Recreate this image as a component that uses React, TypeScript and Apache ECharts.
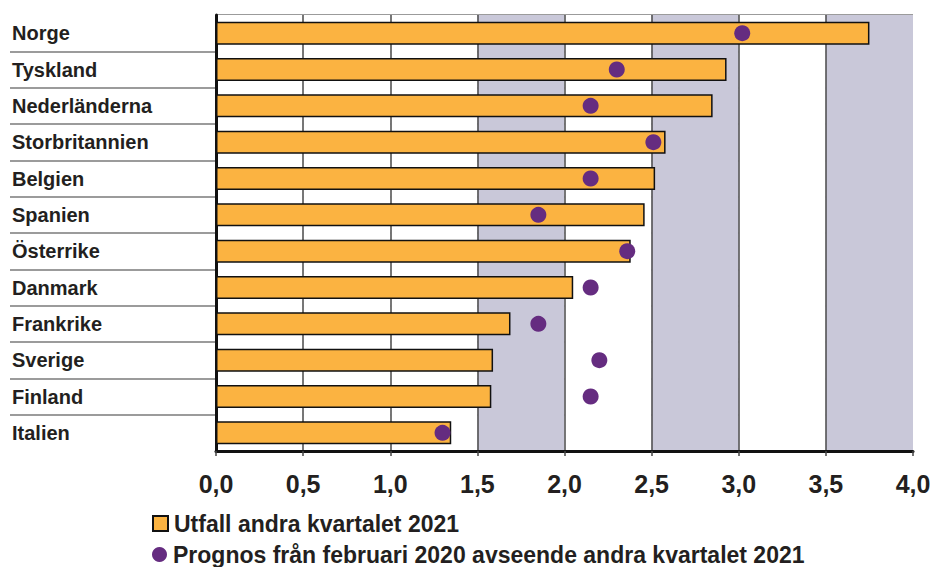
import React, { useEffect, useRef } from "react";
import * as echarts from "echarts";

const categories = [
  "Norge",
  "Tyskland",
  "Nederländerna",
  "Storbritannien",
  "Belgien",
  "Spanien",
  "Österrike",
  "Danmark",
  "Frankrike",
  "Sverige",
  "Finland",
  "Italien",
];
const utfall = [3.75, 2.93, 2.85, 2.58, 2.52, 2.46, 2.38, 2.05, 1.69, 1.59, 1.58, 1.35];
const prognos = [3.02, 2.3, 2.15, 2.51, 2.15, 1.85, 2.36, 2.15, 1.85, 2.2, 2.15, 1.3];
const seriesNames = [
  "Utfall andra kvartalet 2021",
  "Prognos från februari 2020 avseende andra kvartalet 2021",
];
const xMin = 0;
const xMax = 4;
const xStep = 0.5;

const FONT = "'Liberation Sans', Arial, Helvetica, sans-serif";
const TEXT = "#231f20";

const legendText = {
  fontFamily: FONT,
  fontSize: 23,
  fontWeight: "bold",
  color: TEXT,
  padding: [0, 0, 0, 1],
};

export default function App() {
  const ref = useRef<HTMLDivElement>(null);
  useEffect(() => {
    document.body.style.margin = "0";
    if (!ref.current) return;
    const chart = echarts.init(ref.current, null, { renderer: "svg" });
    chart.setOption({
      animation: false,
      backgroundColor: "#ffffff",
      grid: [
        { left: 216, right: 21, top: 15, bottom: 116, containLabel: false },
        { left: 10, width: 206, top: 15, bottom: 116, containLabel: false },
      ],
      legend: [
        {
          left: 152,
          top: 512,
          padding: 0,
          itemWidth: 15,
          itemHeight: 15,
          textStyle: legendText,
          data: [{ name: seriesNames[0], icon: "rect" }],
        },
        {
          left: 152,
          top: 543,
          padding: 0,
          itemWidth: 15,
          itemHeight: 15,
          textStyle: legendText,
          data: [{ name: seriesNames[1], icon: "circle" }],
        },
      ],
      xAxis: [
        {
          type: "value",
          gridIndex: 0,
          min: xMin,
          max: xMax,
          interval: xStep,
          axisLine: { show: true, lineStyle: { color: "#111", width: 3 } },
          axisTick: { show: true, length: 5, lineStyle: { color: "#444", width: 1.5 } },
          axisLabel: {
            margin: 20,
            fontFamily: FONT,
            fontSize: 25,
            fontWeight: "bold",
            color: TEXT,
            formatter: (v: number) => v.toFixed(1).replace(".", ","),
          },
          splitLine: { show: true, showMaxLine: false, lineStyle: { color: "#4a4a4a", width: 1.5 } },
          splitArea: {
            show: true,
            areaStyle: {
              color: ["#ffffff", "#ffffff", "#ffffff", "#c9c8d9", "#ffffff", "#c9c8d9", "#ffffff", "#c9c8d9"],
            },
          },
        },
        { type: "value", gridIndex: 1, min: 0, max: 1, show: false },
      ],
      yAxis: [
        {
          type: "category",
          gridIndex: 0,
          data: categories,
          inverse: true,
          axisLine: { show: true, lineStyle: { color: "#111", width: 3 } },
          axisTick: { show: false },
          axisLabel: {
            align: "left",
            margin: 204,
            fontFamily: FONT,
            fontSize: 20,
            fontWeight: "bold",
            color: TEXT,
          },
          splitLine: { show: true, lineStyle: { color: "#7a7a7a", width: 1.5 } },
        },
        {
          type: "category",
          gridIndex: 1,
          data: categories,
          inverse: true,
          axisLine: { show: false },
          axisTick: { show: false },
          axisLabel: { show: false },
          splitLine: {
            show: true,
            showMinLine: false,
            showMaxLine: false,
            lineStyle: { color: "#7a7a7a", width: 1.5 },
          },
        },
      ],
      series: [
        {
          name: seriesNames[0],
          type: "bar",
          xAxisIndex: 0,
          yAxisIndex: 0,
          data: utfall,
          barWidth: 23,
          itemStyle: { color: "#fbb341", borderColor: "#111", borderWidth: 1.5 },
          z: 3,
        },
        {
          name: seriesNames[1],
          type: "scatter",
          xAxisIndex: 0,
          yAxisIndex: 0,
          data: prognos,
          symbol: "circle",
          symbolSize: 16,
          itemStyle: { color: "#652c80", opacity: 1 },
          z: 4,
        },
      ],
    });
    return () => chart.dispose();
  }, []);
  return <div ref={ref} style={{ width: 934, height: 567 }} />;
}
